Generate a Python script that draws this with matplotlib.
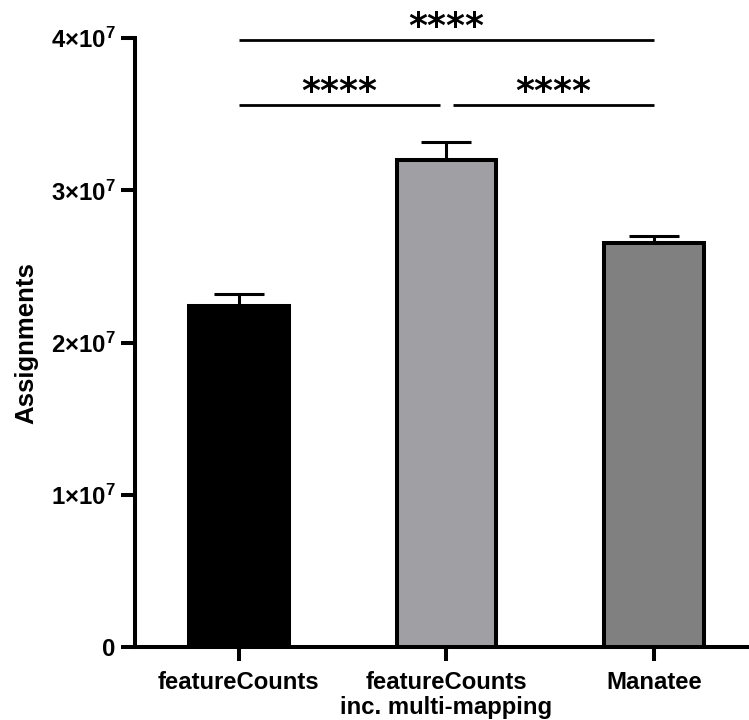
import matplotlib
matplotlib.use("Agg")
import matplotlib.pyplot as plt
import numpy as np

# Data
categories = ["featureCounts", "featureCounts\ninc. multi-mapping", "Manatee"]
means = [2.243e7, 3.202e7, 2.656e7]
sd = [0.074e7, 0.116e7, 0.043e7]
bar_colors = ["#000000", "#a09fa4", "#808080"]
y_ticks = [0, 1e7, 2e7, 3e7, 4e7]
y_tick_labels = ["0", r"$\mathbf{1{\times}10^{7}}$", r"$\mathbf{2{\times}10^{7}}$",
                 r"$\mathbf{3{\times}10^{7}}$", r"$\mathbf{4{\times}10^{7}}$"]
# Pairwise comparisons: (group a, group b, bracket height, label)
comparisons = [(0, 1, 3.56e7, "****"), (1, 2, 3.56e7, "****"), (0, 2, 3.986e7, "****")]

plt.rcParams["font.family"] = ["Liberation Sans", "DejaVu Sans"]
plt.rcParams["font.weight"] = "bold"
plt.rcParams["mathtext.fontset"] = "custom"
plt.rcParams["mathtext.bf"] = "Liberation Sans:bold"
plt.rcParams["mathtext.rm"] = "Liberation Sans:bold"

fig = plt.figure(figsize=(7.49, 7.2), dpi=100)
ax = fig.add_axes([0.1802, 0.1007, 0.8198, 0.8465])

x = np.arange(len(categories))
lw = 2.9
ax.bar(x, means, width=0.48, color=bar_colors, edgecolor="black", linewidth=lw, zorder=3)
ax.errorbar(x, means, yerr=[np.zeros(len(sd)), sd], fmt="none", ecolor="black",
            elinewidth=2.2, capsize=18, capthick=2.2, zorder=2)

ax.set_xlim(-0.501, 2.458)
ax.set_ylim(0, 4e7)
ax.set_yticks(y_ticks)
ax.set_yticklabels(y_tick_labels)
ax.set_xticks(x)
ax.set_xticklabels(categories, fontsize=17.2, fontweight="bold", linespacing=1.08)
for lbl in ax.get_yticklabels():
    lbl.set_fontsize(17.2)
    lbl.set_fontweight("bold")

ax.spines["top"].set_visible(False)
ax.spines["right"].set_visible(False)
for s in ("left", "bottom"):
    ax.spines[s].set_linewidth(lw)
ax.tick_params(axis="both", direction="out", length=10, width=lw)
ax.tick_params(axis="y", pad=4)
ax.tick_params(axis="x", pad=7)
ax.set_ylabel("Assignments", fontsize=18.5, fontweight="bold", labelpad=9)

# Significance brackets
gap = 0.03
for a, b, h, label in comparisons:
    x0 = a + (gap if a == 1 else 0)
    x1 = b - (gap if b == 1 else 0)
    ax.plot([x0, x1], [h, h], color="black", lw=2.0, clip_on=False, solid_capstyle="butt")
    ax.annotate(label, xy=((x0 + x1) / 2, h), xytext=(0, -2.5), textcoords="offset points",
                ha="center", va="bottom", fontsize=26, fontweight="bold",
                family="DejaVu Sans", annotation_clip=False)

fig.savefig("out.png", dpi=100)
